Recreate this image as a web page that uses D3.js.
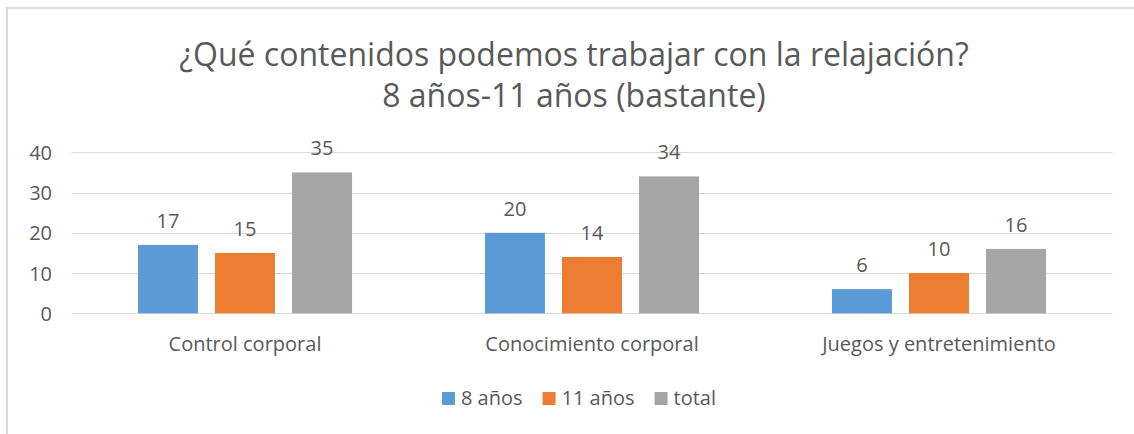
<!DOCTYPE html>
<html lang="es">
<head>
<meta charset="UTF-8">
<title>Relajación</title>
<script src="https://d3js.org/d3.v7.min.js"></script>
<style>
  body { margin: 0; background: #fff; }
  text { font-family: "Open Sans", "Liberation Sans", sans-serif; fill: #595959; }
  .grid line { stroke: #d9d9d9; stroke-width: 1; }
</style>
</head>
<body>
<script>
// data
var categories = ["Control corporal", "Conocimiento corporal", "Juegos y entretenimiento"];
var series = ["8 años", "11 años", "total"];
var values8 = [17, 20, 6];
var values11 = [15, 14, 10];
var valuesTotal = [35, 34, 16];
var yTicks = [0, 10, 20, 30, 40];
var colors = ["#5b9bd5", "#ed7d31", "#a5a5a5"];
var titleLines = ["¿Qué contenidos podemos trabajar con la relajación?", "8 años-11 años (bastante)"];

var W = 1134, H = 434;
var svg = d3.select("body").append("svg").attr("width", W).attr("height", H);

// outer chart border (only top and left are in view)
svg.append("rect").attr("x", 7).attr("y", 8).attr("width", W + 50).attr("height", H + 50)
  .attr("fill", "none").attr("stroke", "#d9d9d9").attr("stroke-width", 2);

// title
svg.append("g").selectAll("text").data(titleLines).enter().append("text")
  .attr("x", 574).attr("y", function (d, i) { return 66 + i * 41; })
  .attr("text-anchor", "middle").attr("font-size", 32)
  .text(function (d) { return d; });

var x0 = d3.scaleBand().domain(categories).range([71.5, 1112.5]).paddingInner(0.383).paddingOuter(0.1915);
var x1 = d3.scaleBand().domain(series).range([0, x0.bandwidth()]).paddingInner(0.221);
var y = d3.scaleLinear().domain([0, 40]).range([313.3, 152.3]);

// grid
var grid = svg.append("g").attr("class", "grid");
grid.selectAll("line").data(yTicks).enter().append("line")
  .attr("x1", 71.5).attr("x2", 1112.5)
  .attr("y1", function (d) { return Math.round(y(d)) + 0.5; })
  .attr("y2", function (d) { return Math.round(y(d)) + 0.5; });

// y axis labels
var yAxis = svg.append("g").attr("transform", "translate(52,0)")
  .call(d3.axisLeft(y).tickValues(yTicks).tickSize(0).tickPadding(0));
yAxis.select(".domain").remove();
yAxis.selectAll("text").attr("font-size", 20).attr("dy", "0.35em").style("font-family", null).attr("fill", null);

// bars
var rows = categories.map(function (c, i) {
  return { cat: c, vals: [values8[i], values11[i], valuesTotal[i]] };
});
var groups = svg.append("g").selectAll("g").data(rows).enter().append("g")
  .attr("transform", function (d) { return "translate(" + x0(d.cat) + ",0)"; });

groups.selectAll("rect").data(function (d) { return d.vals; }).enter().append("rect")
  .attr("x", function (d, i) { return x1(series[i]); })
  .attr("y", function (d) { return y(d); })
  .attr("width", x1.bandwidth())
  .attr("height", function (d) { return y(0) - y(d); })
  .attr("fill", function (d, i) { return colors[i]; });

groups.selectAll("text").data(function (d) { return d.vals; }).enter().append("text")
  .attr("x", function (d, i) { return x1(series[i]) + x1.bandwidth() / 2; })
  .attr("y", function (d) { return y(d) - 17; })
  .attr("text-anchor", "middle").attr("font-size", 20)
  .text(function (d) { return d; });

// category labels
var xAxis = svg.append("g").attr("transform", "translate(0,313.3)")
  .call(d3.axisBottom(x0).tickSize(0).tickPadding(0));
xAxis.select(".domain").remove();
xAxis.selectAll("text").attr("font-size", 20).attr("dy", null).attr("y", 38)
  .style("font-family", null).attr("fill", null);

// legend
var legend = svg.append("g");
var items = legend.selectAll("g").data(series).enter().append("g");
items.append("rect").attr("width", 13).attr("height", 13).attr("y", -13)
  .attr("fill", function (d, i) { return colors[i]; });
items.append("text").attr("x", 19).attr("font-size", 20).text(function (d) { return d; });
var pos = 0;
items.each(function () {
  var w = this.getBBox().width;
  d3.select(this).attr("transform", "translate(" + pos + ",0)");
  pos += w + 20;
});
legend.attr("transform", "translate(" + (579 - (pos - 20) / 2) + ",405)");
</script>
</body>
</html>
